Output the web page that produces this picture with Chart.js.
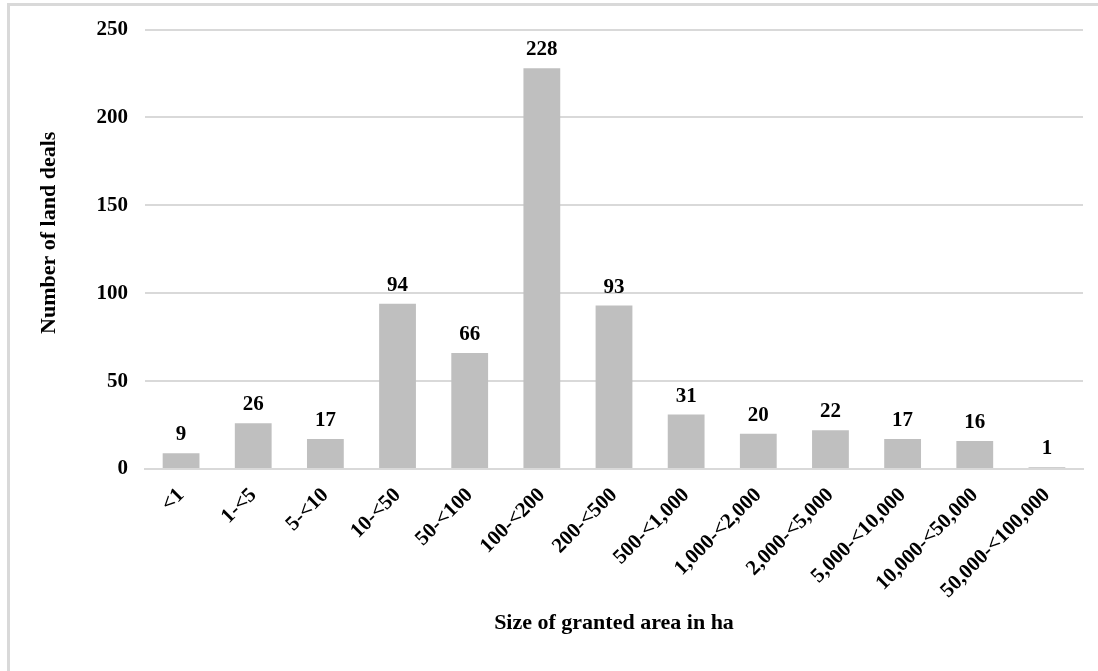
<!DOCTYPE html>
<html>
<head>
<meta charset="utf-8">
<script src="https://cdn.jsdelivr.net/npm/chart.js@4"></script>
<style>
  html, body { margin: 0; padding: 0; background: #fff; }
  #wrap { position: relative; width: 1098px; height: 671px; overflow: hidden; }
  #frame { position: absolute; left: 7px; top: 3px; width: 1200px; height: 800px;
           border-top: 3px solid #d9d9d9; border-left: 3px solid #d9d9d9; }
  #c { position: absolute; left: 0; top: 0; }
</style>
</head>
<body>
<div id="wrap">
  <div id="frame"></div>
  <canvas id="c" width="1098" height="671"></canvas>
</div>
<script>
const categories = ["<1", "1-<5", "5-<10", "10-<50", "50-<100", "100-<200", "200-<500",
  "500-<1,000", "1,000-<2,000", "2,000-<5,000", "5,000-<10,000", "10,000-<50,000", "50,000-<100,000"];
const landDeals = [9, 26, 17, 94, 66, 228, 93, 31, 20, 22, 17, 16, 1];
const yTicks = [0, 50, 100, 150, 200, 250];

const FONT = "'Liberation Serif', 'Times New Roman', serif";

// draws the value above each bar
const barValues = {
    id: "barValues",
    afterDatasetsDraw(chart){
        const ctx = chart.ctx;
        const meta = chart.getDatasetMeta(0);
        ctx.save();
        ctx.font = "bold 21px " + FONT;
        ctx.fillStyle = "#000";
        ctx.textAlign = "center";
        ctx.textBaseline = "alphabetic";
        meta.data.forEach((bar, i) => {
            ctx.fillText(String(landDeals[i]), bar.x, bar.y - 13);
        });
        ctx.restore();
    }
};

new Chart(document.getElementById("c"), {
    type: "bar",
    data: {
        labels: categories,
        datasets: [{
            label: "Number of land deals",
            data: landDeals,
            backgroundColor: "#bfbfbf",
            borderWidth: 0,
            barPercentage: 0.51,
            categoryPercentage: 1
        }]
    },
    options: {
        responsive: false,
        animation: false,
        layout: { padding: { left: 0, top: 26, right: 15, bottom: 0 } },
        plugins: { legend: { display: false }, tooltip: { enabled: false } },
        scales: {
            x: {
                grid: { display: false, drawTicks: false },
                border: { color: "#d9d9d9", width: 2 },
                ticks: {
                    color: "#000", font: { family: FONT, size: 21, weight: "bold" },
                    minRotation: 45, maxRotation: 45, padding: 14, autoSkip: false
                },
                title: {
                    display: true, text: "Size of granted area in ha", color: "#000",
                    font: { family: FONT, size: 22, weight: "bold" },
                    padding: { top: 0, bottom: 34 }
                },
                afterFit(scale){ scale.height = 202; }
            },
            y: {
                min: 0, max: 250,
                afterBuildTicks(scale){ scale.ticks = yTicks.map(v => ({ value: v })); },
                grid: { color: "#d9d9d9", lineWidth: 2, drawTicks: false },
                border: { display: false },
                ticks: {
                    color: "#000", font: { family: FONT, size: 21, weight: "bold" },
                    padding: 17
                },
                title: {
                    display: true, text: "      Number of land deals", color: "#000",
                    font: { family: FONT, size: 22, weight: "bold" },
                    padding: { top: 36, bottom: 0 }
                },
                afterFit(scale){ scale.width = 145; }
            }
        }
    },
    plugins: [barValues]
});
</script>
</body>
</html>
